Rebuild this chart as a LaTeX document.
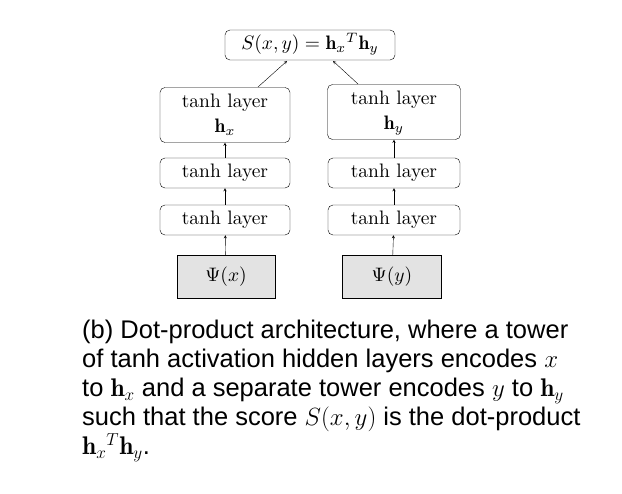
\documentclass[border=0pt]{standalone}
\usepackage{pgfplots}
\pgfplotsset{compat=1.18}
\usepackage{fontspec}
\newfontfamily\capfont{Liberation Sans}
\newcommand\T[1]{\scalebox{1.95}{\fontsize{10}{12}\selectfont\begin{tabular}{@{}c@{}}#1\end{tabular}}}
\begin{document}
\begin{tikzpicture}[x=1pt,y=-1pt,
  bx/.style={draw,rounded corners=5pt,inner sep=0pt,align=center},
  ar/.style={->,>=stealth,thin}]
\path (0,0) rectangle (622,494);
\node[bx,minimum width=170pt,minimum height=30pt] (S) at (310,45) {\T{$S(x,y)=\mathbf{h}_x{}^T\mathbf{h}_y$}};
\node[bx,minimum width=130pt,minimum height=55pt] (L1) at (225,115) {\T{tanh layer\\[1pt]$\mathbf{h}_x$}};
\node[bx,minimum width=133pt,minimum height=55pt] (R1) at (394,112) {\T{tanh layer\\[1pt]$\mathbf{h}_y$}};
\node[bx,minimum width=130pt,minimum height=30pt] (L2) at (225,173) {\T{tanh layer}};
\node[bx,minimum width=132pt,minimum height=30pt] (R2) at (394,173) {\T{tanh layer}};
\node[bx,minimum width=130pt,minimum height=30pt] (L3) at (225,220) {\T{tanh layer}};
\node[bx,minimum width=132pt,minimum height=30pt] (R3) at (394,220) {\T{tanh layer}};
\node[draw,fill=gray!22,minimum width=98pt,minimum height=43pt] (L4) at (226,277) {\T{$\Psi(x)$}};
\node[draw,fill=gray!22,minimum width=99pt,minimum height=43pt] (R4) at (392,277) {\T{$\Psi(y)$}};
\draw[ar] (L4) -- (L3); \draw[ar] (L3) -- (L2); \draw[ar] (L2) -- (L1);
\draw[ar] (R4) -- (R3); \draw[ar] (R3) -- (R2); \draw[ar] (R2) -- (R1);
\draw[ar] (258,87) -- (287,61);
\draw[ar] (358,84) -- (333,61);
\node[anchor=north west,align=left,inner sep=0pt,font=\capfont\fontsize{25.5}{29}\selectfont] at (82,320)
{(b) Dot-product architecture, where a tower\\
of tanh activation hidden layers encodes $x$\\
to $\mathbf{h}_x$ and a separate tower encodes $y$ to $\mathbf{h}_y$\\
such that the score $S(x,y)$ is the dot-product\\
$\mathbf{h}_x{}^T\mathbf{h}_y$.};
\end{tikzpicture}
\end{document}
